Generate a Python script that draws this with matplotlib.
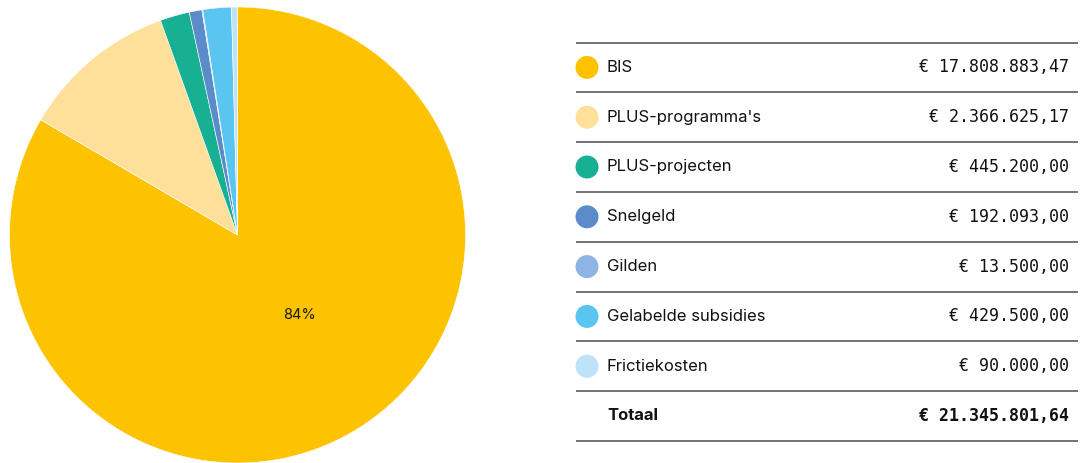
import matplotlib.pyplot as plt

labels = ['BIS', "PLUS-programma's", 'PLUS-projecten', 'Snelgeld', 'Gilden',
          'Gelabelde subsidies', 'Frictiekosten']
amounts = [17808883.47, 2366625.17, 445200.00, 192093.00, 13500.00, 429500.00, 90000.00]
amount_labels = ['€ 17.808.883,47', '€ 2.366.625,17', '€ 445.200,00', '€ 192.093,00',
                 '€ 13.500,00', '€ 429.500,00', '€ 90.000,00']
total_label = '€ 21.345.801,64'
pie_label = '84%'
colors = ['#fdc300', '#ffe09a', '#17b092', '#5b8cc9', '#8db4e2', '#5bc5f2', '#bee3f8']

W, H = 1084, 463
fig = plt.figure(figsize=(W / 100, H / 100), dpi=100)

# pie
ax = fig.add_axes([9 / W, 0, 457 / W, 456 / H])
ax.pie(amounts, colors=colors, startangle=90, counterclock=False, radius=1,
       wedgeprops=dict(edgecolor='white', linewidth=0.4))
ax.set_xlim(-1, 1)
ax.set_ylim(-1, 1)
ax.set_aspect('equal')
ax.text(0.27, -0.35, pie_label, ha='center', va='center', fontsize=10.5,
        family='Inter', color='#1a1a1a')

# table on the right, in pixel coords
tab = fig.add_axes([0, 0, 1, 1])
tab.set_xlim(0, W)
tab.set_ylim(H, 0)
tab.axis('off')

x0, x1 = 576, 1078
y_top, step = 42.5, 49.8
for i in range(len(labels) + 2):
    y = y_top + i * step
    tab.plot([x0, x1], [y, y], color='#4d4d4d', lw=1.1, solid_capstyle='butt')

for i, (name, val, c) in enumerate(zip(labels, amount_labels, colors)):
    yc = y_top + (i + 0.5) * step
    tab.add_patch(plt.Circle((587, yc), 11.5, color=c, lw=0))
    tab.text(607, yc, name, ha='left', va='center', fontsize=12, family='Inter',
             color='#111111')
    tab.text(1069, yc, val, ha='right', va='center', fontsize=12,
             family='DejaVu Sans Mono', color='#111111')

yc = y_top + (len(labels) + 0.5) * step
tab.text(607, yc, 'Totaal', ha='left', va='center', fontsize=12, family='Inter',
         fontweight='bold', color='#111111')
tab.text(1069, yc, total_label, ha='right', va='center', fontsize=12,
         family='DejaVu Sans Mono', fontweight='bold', color='#111111')

fig.savefig('out.png', dpi=100)
